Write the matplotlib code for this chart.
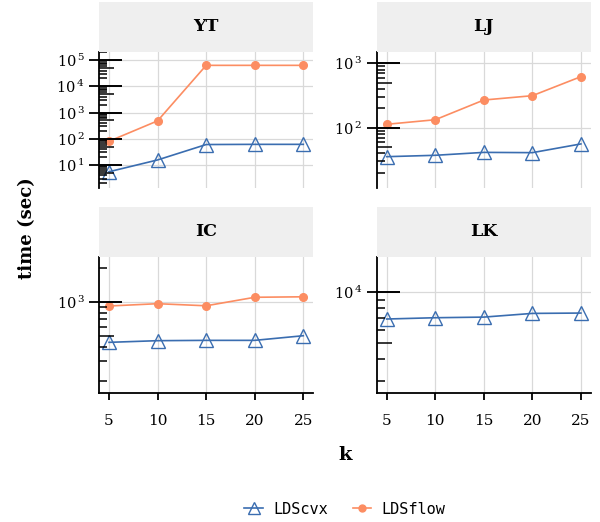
import numpy as np
import matplotlib
matplotlib.use("Agg")
from matplotlib import pyplot as plt
from matplotlib import transforms
from matplotlib.lines import Line2D
from matplotlib.ticker import FixedLocator, NullLocator

plt.rcParams['font.family'] = ['DejaVu Serif']
plt.rcParams['mathtext.fontset'] = 'dejavuserif'

# data
k = [5, 10, 15, 20, 25]
datasets = ["YT", "LJ", "IC", "LK"]
cvx_yt = [5.5, 15.5, 60, 61, 61]
flow_yt = [80, 480, 63000, 63000, 63000]
cvx_lj = [35.5, 37.3, 41.4, 41, 56]
flow_lj = [113, 133, 269, 314, 620]
cvx_ic = [437, 452, 455, 455, 500]
flow_ic = [916, 960, 920, 1094, 1105]
cvx_lk = [6918, 7040, 7100, 7465, 7500]
flow_lk = None  # no LDSflow result on LK

cvx = {"YT": cvx_yt, "LJ": cvx_lj, "IC": cvx_ic, "LK": cvx_lk}
flow = {"YT": flow_yt, "LJ": flow_lj, "IC": flow_ic, "LK": flow_lk}
# y range of every panel, in log10
ylims = {"YT": (0.12, 5.32), "LJ": (1.064, 3.18), "IC": (2.195, 3.398), "LK": (3.406, 4.207)}

blue = '#3a6db0'
orange = '#fc8d62'

W, H = 600, 522
fig = plt.figure(figsize=(W / 100, H / 100), dpi=100)

# panel boxes in pixels (x0, y0, x1, y1), y down from top
boxes = {
    "YT": (99.3, 51.7, 313, 188),
    "LJ": (377, 51.7, 590.6, 188),
    "IC": (99.3, 256.7, 313, 392.7),
    "LK": (377, 256.7, 590.6, 392.7),
}
strip_h = 50


def add_px_axes(x0, y0, x1, y1):
    return fig.add_axes([x0 / W, 1 - y1 / H, (x1 - x0) / W, (y1 - y0) / H])


def draw_logticks(ax, lo, hi, w_px):
    # ggplot style annotation_logticks on the left side
    tr = transforms.blended_transform_factory(ax.transAxes, ax.transData)
    for e in range(int(np.floor(lo)), int(np.ceil(hi)) + 1):
        for m in range(1, 10):
            v = m * 10.0 ** e
            if not (lo <= np.log10(v) <= hi):
                continue
            if m == 1:
                L, lw = 22.7, 1.4
            elif m == 5:
                L, lw = 15, 1.1
            else:
                L, lw = 7.7, 1.1
            ax.plot([0, L / w_px], [v, v], transform=tr, color='black', lw=lw,
                    solid_capstyle='butt', clip_on=False, zorder=4)


for i, name in enumerate(datasets):
    x0, y0, x1, y1 = boxes[name]
    ax = add_px_axes(x0, y0, x1, y1)
    bottom_row = i >= 2

    ax.plot(k, cvx[name], color=blue, lw=1.2, marker='^', ms=10.5,
            mfc='none', mec=blue, mew=1.0, zorder=3)
    if flow[name] is not None:
        ax.plot(k, flow[name], color=orange, lw=1.2, marker='o', ms=5.5,
                mec=orange, zorder=3)

    ax.set_yscale('log')
    lo, hi = ylims[name]
    ax.set_ylim(10 ** lo, 10 ** hi)
    ax.set_xlim(4, 26)

    decades = [e for e in range(int(np.floor(lo)), int(np.ceil(hi)) + 1) if lo <= e <= hi]
    ax.yaxis.set_major_locator(FixedLocator([10.0 ** e for e in decades]))
    ax.yaxis.set_minor_locator(NullLocator())
    ax.set_yticklabels([r'$10^{\,%d}$' % e for e in decades], fontsize=10.5)
    ax.set_xticks(k)

    ax.grid(True, which='major', color='#d9d9d9', lw=0.9)
    ax.set_axisbelow(True)
    for s in ['top', 'right']:
        ax.spines[s].set_visible(False)
    ax.spines['left'].set_linewidth(1.3)
    ax.tick_params(axis='y', which='major', length=7.5, width=1.3, direction='out', pad=3)

    if bottom_row:
        ax.spines['bottom'].set_linewidth(1.3)
        ax.tick_params(axis='x', length=5, width=1.3, pad=10, labelsize=11)
    else:
        ax.spines['bottom'].set_visible(False)
        ax.tick_params(axis='x', length=0, labelbottom=False)

    draw_logticks(ax, lo, hi, x1 - x0)

    # facet strip
    sax = add_px_axes(x0, y0 - strip_h, x1, y0)
    sax.set_facecolor('#efefef')
    sax.set_xticks([])
    sax.set_yticks([])
    for s in sax.spines.values():
        s.set_visible(False)
    sax.text(0.5, 0.5, name, ha='center', va='center', fontsize=12.5,
             fontweight='bold', transform=sax.transAxes)

fig.text(345 / W, 1 - 455 / H, 'k', ha='center', va='center', fontsize=14, fontweight='bold')
fig.text(27 / W, 1 - 228 / H, 'time (sec)', ha='center', va='center', rotation=90,
         fontsize=13, fontweight='bold')

handles = [
    Line2D([], [], color=blue, lw=1.2, marker='^', ms=8, mfc='none', mec=blue),
    Line2D([], [], color=orange, lw=1.2, marker='o', ms=5, mec=orange),
]
fig.legend(handles, ['LDScvx', 'LDSflow'], loc='center', ncol=2,
           bbox_to_anchor=(345 / W, 1 - 509 / H), frameon=False,
           prop={'family': 'DejaVu Sans Mono', 'size': 11},
           handlelength=1.2, columnspacing=1.6, handletextpad=0.7)

fig.savefig('out.png', dpi=100)
